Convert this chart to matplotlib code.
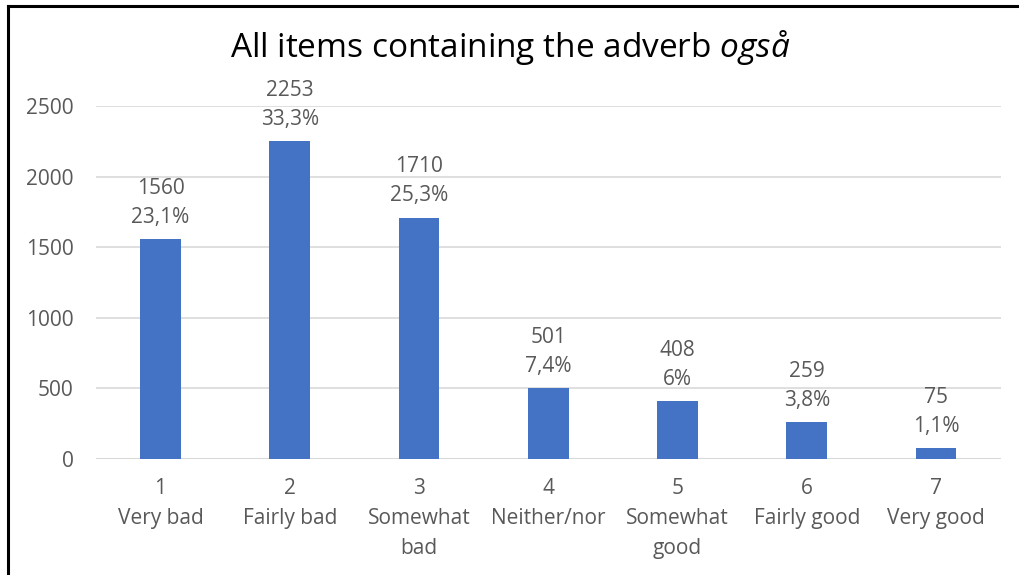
import matplotlib.pyplot as plt
from matplotlib.lines import Line2D

categories = ["1\nVery bad", "2\nFairly bad", "3\nSomewhat\nbad", "4\nNeither/nor",
              "5\nSomewhat\ngood", "6\nFairly good", "7\nVery good"]
counts = [1560, 2253, 1710, 501, 408, 259, 75]
percents = ["23,1%", "33,3%", "25,3%", "7,4%", "6%", "3,8%", "1,1%"]
yticks = [0, 500, 1000, 1500, 2000, 2500]

plt.rcParams['font.family'] = ['Open Sans', 'DejaVu Sans']
plt.rcParams['mathtext.fontset'] = 'custom'
plt.rcParams['mathtext.it'] = 'Open Sans:italic'
plt.rcParams['mathtext.rm'] = 'Open Sans'

text_col = "#595959"
fig = plt.figure(figsize=(10.2, 5.75), dpi=100)
ax = fig.add_axes([0.094, 0.2017, 0.887, 0.614])

x = range(len(counts))
ax.bar(x, counts, width=0.317, color="#4472C4", zorder=3)
for i, (c, p) in enumerate(zip(counts, percents)):
    ax.annotate(f"{c}\n{p}", (i, c), xytext=(0, 8), textcoords="offset points",
                ha="center", va="bottom", fontsize=15, color=text_col,
                linespacing=1.5)

ax.set_xlim(-0.5, len(counts) - 0.5)
ax.set_ylim(0, 2500)
ax.set_yticks(yticks)
ax.set_xticks(list(x))
ax.set_xticklabels(categories, linespacing=1.55)
ax.yaxis.grid(True, color="#d9d9d9", linewidth=1.2, zorder=0)
ax.tick_params(axis="both", length=0, labelsize=15, labelcolor=text_col)
ax.tick_params(axis="x", pad=14)
ax.tick_params(axis="y", pad=16)
for s in ax.spines.values():
    s.set_visible(False)
ax.axhline(0, color="#d9d9d9", linewidth=1.5, zorder=2)

fig.text(0.5, 0.917, r"All items containing the adverb $\mathit{også}$",
         ha="center", va="center", fontsize=24, color="black")

# chart frame: top and left edges
fig.add_artist(Line2D([0.0075, 1.0], [0.989, 0.989], color="black", linewidth=2.2,
                      transform=fig.transFigure))
fig.add_artist(Line2D([0.0075, 0.0075], [0.0, 0.989], color="black", linewidth=2.2,
                      transform=fig.transFigure))

fig.savefig("out.png", dpi=100)
